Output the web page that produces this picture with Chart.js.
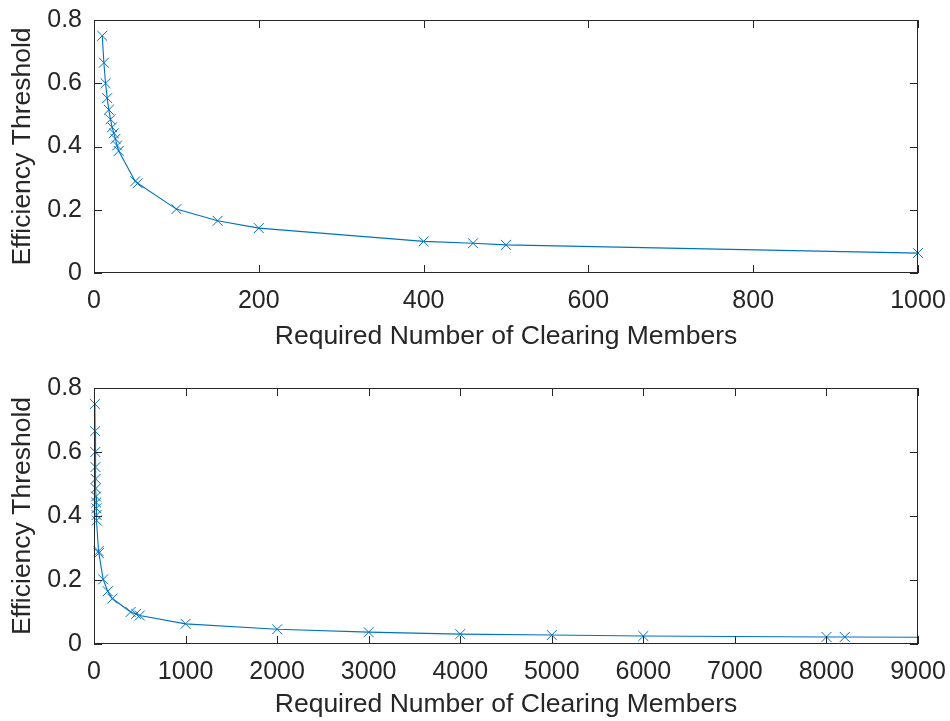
<!DOCTYPE html>
<html>
<head>
<meta charset="utf-8">
<script src="https://cdn.jsdelivr.net/npm/chart.js@4/dist/chart.umd.min.js"></script>
<style>
  html, body { margin: 0; padding: 0; background: #fff; }
  #wrap { position: relative; width: 950px; height: 721px; }
  canvas { position: absolute; left: 0; }
  #c1 { top: 0; }
  #c2 { top: 360px; }
</style>
</head>
<body>
<div id="wrap">
  <canvas id="c1" width="950" height="360"></canvas>
  <canvas id="c2" width="950" height="361"></canvas>
</div>
<script>
// ---- data ----
const membersRequired = [10, 12, 14, 16, 18, 20, 22, 24, 26, 28, 30, 50, 53, 100, 150, 200, 400, 460, 500, 1000, 2000, 3000, 4000, 5000, 6000, 8000, 8200, 10000];
const efficiencyThreshold = [0.750, 0.665, 0.600, 0.553, 0.516, 0.486, 0.461, 0.442, 0.424, 0.403, 0.386, 0.290, 0.284, 0.202, 0.165, 0.142, 0.100, 0.094, 0.089, 0.063, 0.046, 0.037, 0.031, 0.028, 0.025, 0.022, 0.022, 0.020];
const topXTicks = [0, 200, 400, 600, 800, 1000];
const bottomXTicks = [0, 1000, 2000, 3000, 4000, 5000, 6000, 7000, 8000, 9000];
const yTicks = [0, 0.2, 0.4, 0.6, 0.8];
const xTitle = 'Required Number of Clearing Members';
const yTitle = 'Efficiency Threshold';

const AX = '#262626';
const LINE = '#0072BD';
const FONT = "'Liberation Sans', Arial, Helvetica, sans-serif";
const TICK_SIZE = 25;
const TITLE_SIZE = 26.5;

const boxTicks = {
  id: 'boxTicks',
  afterDatasetsDraw(chart) {
    const { ctx, chartArea: a, scales: { x, y } } = chart;
    const L = 8;
    ctx.save();
    ctx.strokeStyle = AX;
    ctx.lineWidth = 1;
    ctx.beginPath();
    x.ticks.forEach(t => {
      const px = Math.round(x.getPixelForValue(t.value)) + 0.5;
      ctx.moveTo(px, a.bottom); ctx.lineTo(px, a.bottom - L);
      ctx.moveTo(px, a.top); ctx.lineTo(px, a.top + L);
    });
    y.ticks.forEach(t => {
      const py = Math.round(y.getPixelForValue(t.value)) + 0.5;
      ctx.moveTo(a.left, py); ctx.lineTo(a.left + L, py);
      ctx.moveTo(a.right, py); ctx.lineTo(a.right - L, py);
    });
    ctx.stroke();
    ctx.strokeRect(Math.round(a.left) + 0.5, Math.round(a.top) + 0.5, Math.round(a.width) - 1, Math.round(a.height) - 1);
    ctx.restore();
  }
};

function makeChart(id, xMax, xTicks, padTop, xAxisH, titlePadBottom) {
  const pts = membersRequired.map((v, i) => ({ x: v, y: efficiencyThreshold[i] }));
  return new Chart(document.getElementById(id), {
    type: 'scatter',
    data: {
      datasets: [
        {
          data: pts, showLine: true, borderColor: LINE, borderWidth: 1.1,
          pointRadius: 0, pointHoverRadius: 0, clip: 0
        },
        {
          data: pts, showLine: false, borderColor: LINE, backgroundColor: LINE,
          pointStyle: 'crossRot', pointRadius: 7, pointBorderWidth: 1, pointHoverRadius: 7,
          clip: false
        }
      ]
    },
    options: {
      responsive: false,
      animation: false,
      events: [],
      layout: { padding: { top: padTop, right: 32, bottom: 0, left: 0 } },
      plugins: { legend: { display: false }, tooltip: { enabled: false } },
      scales: {
        x: {
          type: 'linear', min: 0, max: xMax,
          afterBuildTicks: s => { s.ticks = xTicks.map(v => ({ value: v })); },
          afterFit: s => { s.height = xAxisH; s.paddingLeft = 0; s.paddingRight = 0; },
          grid: { display: false, drawTicks: false },
          border: { display: false },
          ticks: { color: AX, padding: 13, font: { family: FONT, size: TICK_SIZE }, maxRotation: 0, autoSkip: false, callback: v => String(v) },
          title: { display: true, text: xTitle, color: AX, font: { family: FONT, size: TITLE_SIZE }, padding: { top: 0, bottom: titlePadBottom } }
        },
        y: {
          type: 'linear', min: 0, max: 0.8,
          afterBuildTicks: s => { s.ticks = yTicks.map(v => ({ value: v })); },
          afterFit: s => { s.width = 94; s.paddingTop = 0; s.paddingBottom = 0; },
          grid: { display: false, drawTicks: false },
          border: { display: false },
          ticks: { color: AX, padding: 12, font: { family: FONT, size: TICK_SIZE }, callback: v => String(v) },
          title: { display: true, text: yTitle, color: AX, font: { family: FONT, size: TITLE_SIZE }, padding: { top: 6.5, bottom: 0 } }
        }
      }
    },
    plugins: [boxTicks]
  });
}

makeChart('c1', 1000, topXTicks, 20, 87, 7.5);
makeChart('c2', 9000, bottomXTicks, 28, 77, 0);
</script>
</body>
</html>
